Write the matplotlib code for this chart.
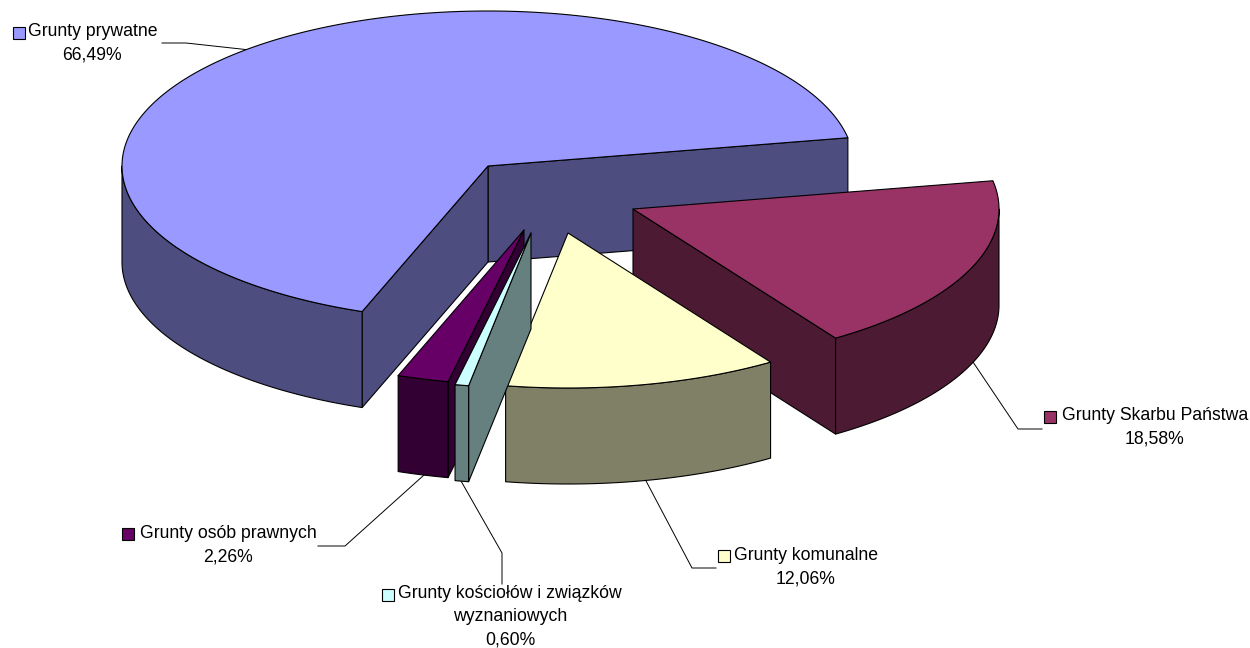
import numpy as np
import matplotlib
matplotlib.use("Agg")
import matplotlib.pyplot as plt
from matplotlib.patches import Polygon, Rectangle

plt.rcParams['font.family'] = ['Liberation Sans', 'DejaVu Sans']

# ---- data (in pie order, counter-clockwise from the start angle)
categories = ["Grunty prywatne", "Grunty osób prawnych",
              "Grunty kościołów i związków\nwyznaniowych",
              "Grunty komunalne", "Grunty Skarbu Państwa"]
values = [66.49, 2.26, 0.60, 12.06, 18.58]
value_labels = ["66,49%", "2,26%", "0,60%", "12,06%", "18,58%"]

# ---- style
top_colors = ["#9999FF", "#660066", "#CCFFFF", "#FFFFCC", "#993366"]
side_colors = ["#4D4D80", "#330033", "#668080", "#808066", "#4D1A33"]

# ---- geometry of the 3-D projection (pixels)
CX, CY = 488, 166
RX, RY = 366, 155
DEPTH = 96
START = 10.5
explode = [(0, 0), (36, 64), (43, 67), (80, 67), (145, 43)]
draw_order = [0, 4, 3, 1, 2]

fig = plt.figure(figsize=(12.5, 6.48), dpi=100)
ax = fig.add_axes([0, 0, 1, 1])
ax.set_xlim(0, 1250)
ax.set_ylim(648, 0)
ax.axis("off")

LW = 0.8
total = sum(values)
angles = [START]
for v in values:
    angles.append(angles[-1] + v / total * 360)


def rim(deg, cx, cy):
    t = np.radians(deg)
    return np.column_stack([cx + RX * np.cos(t), cy - RY * np.sin(t)])


def poly(pts, color, z):
    ax.add_patch(Polygon(pts, closed=True, facecolor=color, edgecolor="black",
                         linewidth=LW, joinstyle="round", zorder=z))


z = 2
for i in draw_order:
    a0, a1 = angles[i], angles[i + 1]
    cx, cy = CX + explode[i][0], CY + explode[i][1]
    apex = np.array([cx, cy])
    down = np.array([0, DEPTH])
    # flat cut faces that look towards the viewer
    for edge, visible in ((a0, np.cos(np.radians(a0)) > 0), (a1, np.cos(np.radians(a1)) < 0)):
        if visible:
            p = rim(np.array([edge]), cx, cy)[0]
            poly([apex, p, p + down, apex + down], side_colors[i], z)
            z += 1
    # outer curved wall: only the front half (180..360, and 540..720)
    for lo, hi in ((180, 360), (540, 720)):
        s, e = max(a0, lo), min(a1, hi)
        if e > s:
            arc = rim(np.linspace(s, e, 200), cx, cy)
            poly(np.vstack([arc, (arc + down)[::-1]]), side_colors[i], z)
            z += 1
    # top face
    arc = rim(np.linspace(a0, a1, 400), cx, cy)
    poly(np.vstack([apex, arc]), top_colors[i], z)
    z += 1

# ---- data labels: leader line, legend key, name and value
leaders = [
    [(162, 43), (186, 43), (250, 50)],
    [(318, 546), (345, 546), (424, 475)],
    [(502, 584), (502, 553), (461, 481)],
    [(716, 568), (692, 568), (645, 479)],
    [(1042, 429), (1018, 429), (973, 362)],
]
label_centers = [(93, 32), (228, 533), (510, 593), (806, 555), (1155, 416)]
value_offsets = [-1, 0, 0, 0, 0]
key_pos = [(13, 27), (122, 528), (382, 589), (718, 550), (1044, 411)]
LINE_H = 23.5
FS = 12.7

for i, name in enumerate(categories):
    ax.plot(*zip(*leaders[i]), color="black", lw=0.7, zorder=1, solid_joinstyle="miter")
    ax.add_patch(Rectangle(key_pos[i], 12, 12, facecolor=top_colors[i],
                           edgecolor="black", linewidth=LW, zorder=100))
    lines = name.split("\n") + [value_labels[i]]
    x, y = label_centers[i]
    for k, line in enumerate(lines):
        dx = value_offsets[i] if k == len(lines) - 1 else 0
        ax.text(x + dx, y + k * LINE_H, line, ha="center", va="center",
                fontsize=FS, color="black", zorder=101)

fig.savefig("out.png", dpi=100, facecolor="white")
